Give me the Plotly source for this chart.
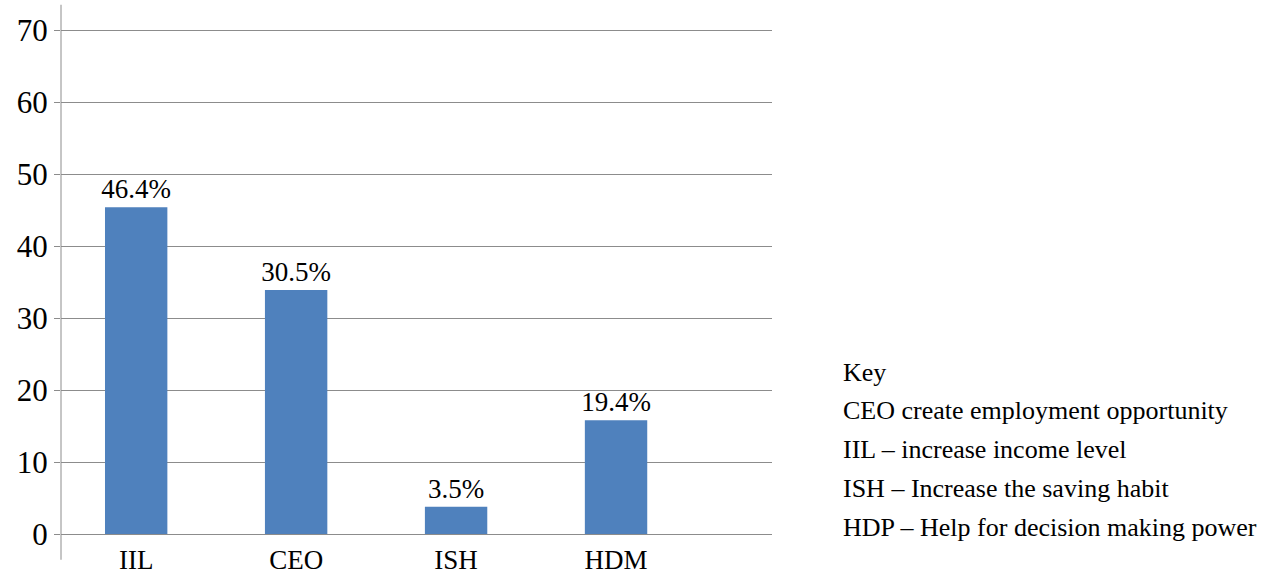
import plotly.graph_objects as go

categories = ["IIL", "CEO", "ISH", "HDM"]
values = [45.4, 33.9, 3.8, 15.8]
value_labels = ["46.4%", "30.5%", "3.5%", "19.4%"]
y_ticks = [0, 10, 20, 30, 40, 50, 60, 70]
key_lines = [
    "Key",
    "CEO create employment opportunity",
    "IIL \u2013 increase income level",
    "ISH \u2013 Increase the saving habit",
    "HDP \u2013 Help for decision making power",
]

FONT = "Liberation Serif, Times New Roman, serif"
GRID = "#8c8c8c"

fig = go.Figure()
fig.add_trace(go.Bar(
    x=categories,
    y=values,
    text=value_labels,
    textposition="outside",
    constraintext="none",
    textfont=dict(family=FONT, size=27, color="black"),
    marker=dict(color="#4F81BD", line=dict(width=0)),
    width=0.39,
    cliponaxis=False,
))

fig.update_layout(
    width=1265,
    height=575,
    margin=dict(l=61, r=493, t=29, b=41, autoexpand=False),
    plot_bgcolor="white",
    paper_bgcolor="white",
    showlegend=False,
    font=dict(family=FONT, color="black"),
    xaxis=dict(
        range=[-0.47, 3.975],
        showgrid=False,
        showline=False,
        zeroline=False,
        ticks="",
        automargin=False,
        tickfont=dict(family=FONT, size=27, color="black"),
        ticklabelstandoff=7,
    ),
    yaxis=dict(
        range=[0, 70.15],
        tickvals=y_ticks,
        showgrid=True,
        gridcolor=GRID,
        gridwidth=1,
        zeroline=True,
        zerolinecolor=GRID,
        zerolinewidth=1,
        showline=False,
        ticks="outside",
        ticklen=6,
        tickcolor=GRID,
        automargin=False,
        tickfont=dict(family=FONT, size=31, color="black"),
    ),
)

# vertical axis line extending slightly beyond plot area
fig.add_shape(type="line", xref="paper", yref="paper",
              x0=0, x1=0, y0=-0.051, y1=1.048,
              line=dict(color=GRID, width=1))

key_y = [0.3194, 0.244, 0.1667, 0.0893, 0.0119]
for txt, yy in zip(key_lines, key_y):
    fig.add_annotation(
        text=txt, xref="paper", yref="paper",
        x=1.097, y=yy, xanchor="left", yanchor="middle",
        showarrow=False,
        font=dict(family=FONT, size=26, color="black"),
    )

fig.write_html("out.html", config={"displayModeBar": False},
               post_script="document.body.style.margin='0';")
